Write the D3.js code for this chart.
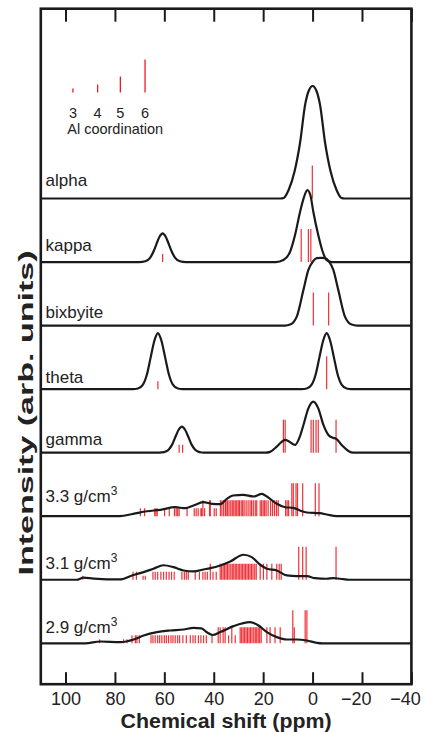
<!DOCTYPE html>
<html>
<head>
<meta charset="utf-8">
<script src="https://cdn.jsdelivr.net/npm/d3@7/dist/d3.min.js"></script>
<style>
  body { margin: 0; background: #fff; }
  svg { display: block; font-family: "Liberation Sans", Arial, Helvetica, sans-serif; }
</style>
</head>
<body>
<div id="chart"></div>
<script>
/*
    27Al NMR spectra of alumina phases and amorphous alumina,
    stacked panels with calculated shifts as sticks.
*/

// panels, top to bottom
var panels = ["alpha", "kappa", "bixbyite", "theta", "gamma", "3.3", "3.1", "2.9"];
var panelLabels = ["alpha", "kappa", "bixbyite", "theta", "gamma", "3.3 g/cm", "3.1 g/cm", "2.9 g/cm"];
var densityPanels = ["3.3", "3.1", "2.9"];
var xTicks = [100, 80, 60, 40, 20, 0, -20, -40];
var coordLevels = [3, 4, 5, 6];
var legendPpm = [97, 87, 77.8, 67.8];

// spectra, [ppm, intensity]
var alphaCurve = [[110,0],[13,0],[11.7,0.5],[9.7,8.5],[7.3,27],[5.05,56],[3.0,94],[1.5,108],[0,112.5],[-1.5,108],[-3.0,94],[-5.05,56],[-7.3,27],[-9.7,8.5],[-11.7,0.5],[-13,0],[-40,0]];
var kappaCurve = [[110,0],[70.2,0],[67.7,0.8],[65.7,4.5],[64.2,11.5],[63.2,18],[61.9,25.5],[60.7,28.7],[59.5,25.5],[58.2,18],[57.2,11.5],[55.7,4.5],[53.7,0.8],[51.2,0],[14.8,0],[11.8,2],[9.1,10.3],[7.1,27],[5.05,50.3],[3.6,64],[2.1,72],[0.8,66],[-0.3,50.3],[-2.3,27],[-4.1,10.3],[-5.7,2],[-7.9,0],[-40,0]];
var bixbyiteCurve = [[110,0],[11.1,0],[9.1,1],[6.4,9],[3.7,35.7],[1.7,55.7],[-0.1,64],[-1.7,67.4],[-3.4,67.8],[-5.05,67.4],[-6.7,64],[-8.4,55.7],[-10.4,35.7],[-13.1,9],[-15.8,1],[-18,0],[-40,0]];
var thetaCurve = [[110,0],[72.7,0],[70.7,0.6],[68.65,4.5],[67.05,14.6],[65.55,31.5],[64.0,48.6],[62.6,56],[61.2,48.6],[59.65,31.5],[58.15,14.6],[56.55,4.5],[54.5,0.6],[52.5,0],[4.4,0],[2.4,0.6],[0.35,4.5],[-1.25,14.6],[-2.75,31.5],[-4.3,48.6],[-5.7,56],[-7.1,48.6],[-8.65,31.5],[-10.15,14.6],[-11.75,4.5],[-13.8,0.6],[-15.8,0],[-40,0]];
var gammaCurve = [[110,0],[63,0],[61,0.2],[59.4,1.1],[58.1,3.5],[56.8,8.3],[55.5,15.9],[54.2,22.9],[52.9,26],[51.6,22.9],[50.3,15.9],[49,8.3],[47.7,3.5],[46.4,1.1],[44.8,0.2],[43,0],[19,0],[17.2,0.8],[14.5,6],[12.4,11],[11.1,12.7],[9.5,11.2],[7.1,7.7],[5.3,15],[3.7,27.7],[1.7,44.3],[-0.3,51],[-2.3,44.3],[-4.4,27.7],[-6.4,17.7],[-8.3,14.8],[-9.5,14],[-11.8,7.7],[-14.5,1.7],[-16.5,0],[-40,0]];
var glass33Curve = [[110,0],[78,0],[72.6,2.4],[67,5],[61.6,6.4],[55.6,9],[51.5,8],[48.2,10.7],[44.3,14],[40.7,12.4],[37.4,12],[34.7,17.4],[32.2,20.7],[28.1,21.4],[23.9,19.7],[20.5,22.4],[18.5,19.7],[14.5,12.4],[11.1,9],[7.8,8.4],[5.1,5.7],[2.3,3.7],[-3,3],[-5.7,1.7],[-9.8,0],[-40,0]];
var glass31Curve = [[110,0],[95.5,0],[92.7,2.2],[88.6,1.2],[78,0.3],[73.1,4.3],[68.4,7.6],[64.4,11],[60.3,14.5],[56.3,12.6],[52.2,9.3],[48.2,8.3],[44.1,10.3],[41.4,11.6],[37.4,14.3],[33.3,18.3],[28,25],[24.6,22.6],[21.2,15],[18.5,11],[14.5,9.3],[10.4,4.3],[6.4,3.6],[2.3,3.6],[-1,1.6],[-5.7,1],[-8.4,1.6],[-11.1,1],[-15,0],[-40,0]];
var glass29Curve = [[110,0],[92,0],[85.9,1.8],[77.8,1.2],[72.4,3.8],[68.4,7.8],[63,11.2],[57.6,12.8],[52.2,13.8],[48.2,15.5],[45,15],[42.8,11],[40.5,8.3],[37.4,11.2],[32,17.2],[25.3,21.2],[21.9,17.8],[18.5,11.2],[14.5,6.2],[10.4,3.8],[6.4,3.8],[2.3,2.8],[-1.7,0.5],[-4,0],[-40,0]];

// calculated shifts (ppm), grouped by Al coordination
var alphaCn6 = [0.1];
var kappaCn4 = [60.7];
var kappaCn6 = [4.6, 1.7, 0.7];
var bixbyiteCn6 = [-0.3, -6.5];
var thetaCn4 = [62.6];
var thetaCn6 = [-5.7];
var gammaCn4 = [54.0, 52.6];
var gammaCn6 = [11.8, 11.1, 0.6, -0.3, -1.4, -2.3, -9.5];
var glass33Cn4 = [69.7, 68.0, 63.9, 63.4, 62.9, 59.9, 58.0, 55.9, 55.2, 54.6, 54.0, 50.8, 47.9, 47.1, 46.3, 45.2, 44.9, 43.7, 39.8, 39.0];
var glass33Cn5 = [44.4, 41.7, 41.4, 37.3, 36.7, 36.0, 35.3, 35.0, 34.4, 33.8, 33.1, 32.5, 31.9, 31.3, 30.7, 30.1, 29.6, 28.9, 28.3, 27.7, 26.9, 26.1, 25.3, 24.7, 24.0, 23.2, 22.6, 21.2, 20.6, 20.0, 19.4, 18.8, 18.0, 17.0, 16.2, 15.4, 14.6, 13.9, 10.9, 10.3, 9.7];
var glass33Cn6 = [8.4, 7.8, 6.7, 6.1, 4.0, -1.1, -2.6];
var glass31Cn3 = [93.0, 68.6, 67.7];
var glass31Cn4 = [72.7, 71.3, 64.6, 63.7, 62.7, 61.4, 60.3, 59.2, 58.1, 57.1, 56.0, 52.9, 51.9, 51.1, 50.3, 47.5, 45.8, 44.4, 43.5, 42.6, 40.3, 39.0];
var glass31Cn5 = [41.4, 37.4, 36.8, 36.2, 35.6, 35.0, 34.4, 33.8, 33.1, 32.5, 31.9, 31.3, 30.7, 30.1, 29.5, 28.9, 28.3, 27.7, 27.1, 26.5, 25.9, 25.3, 24.7, 24.1, 23.4, 22.8, 21.2, 19.9, 18.5, 16.5, 14.5, 13.5, 12.7];
var glass31Cn6 = [5.6, 4.0, 2.6, -9.5];
var glass29Cn3 = [86.2, 76.5, 75.1];
var glass29Cn4 = [73.1, 71.7, 71.1, 70.1, 65.4, 64.6, 63.7, 62.7, 61.9, 61.0, 60.0, 59.2, 58.3, 57.3, 56.5, 55.6, 54.6, 53.8, 52.5, 51.1, 49.5, 48.4, 47.5, 46.2, 45.2, 44.1, 43.0, 40.7, 34.0, 31.3];
var glass29Cn5 = [38.2, 37.4, 36.2, 35.4, 32.7, 29.3, 28.7, 28.1, 27.5, 26.9, 26.3, 25.7, 25.1, 24.5, 23.8, 23.2, 22.6, 22.0, 21.4, 20.8, 18.5, 17.2, 15.2, 13.1, 7.4];
var glass29Cn6 = [8.0, 3.0, 2.3];

// flatten {coordination: ppm list} into stick records
function sticksFrom(groups){
    let out = [];
    for (let g of groups)
        for (let p of g[1]) out.push({ppm: p, cn: g[0]});
    return out;
}

var curves = [alphaCurve, kappaCurve, bixbyiteCurve, thetaCurve, gammaCurve, glass33Curve, glass31Curve, glass29Curve];
var stickSets = [
    sticksFrom([[6, alphaCn6]]),
    sticksFrom([[4, kappaCn4], [6, kappaCn6]]),
    sticksFrom([[6, bixbyiteCn6]]),
    sticksFrom([[4, thetaCn4], [6, thetaCn6]]),
    sticksFrom([[4, gammaCn4], [6, gammaCn6]]),
    sticksFrom([[4, glass33Cn4], [5, glass33Cn5], [6, glass33Cn6]]),
    sticksFrom([[3, glass31Cn3], [4, glass31Cn4], [5, glass31Cn5], [6, glass31Cn6]]),
    sticksFrom([[3, glass29Cn3], [4, glass29Cn4], [5, glass29Cn5], [6, glass29Cn6]])
];
var panelTable = panels.map((p, i) => ({name: p, label: panelLabels[i], curve: curves[i], sticks: stickSets[i]}));

// how far each label sits above its baseline (px)
var labelRaise = [13, 11, 8, 6, 8, 14, 11, 10];

class SpectraChart {
    constructor(selector){
        this.width = 426;
        this.height = 732;
        this.frame = {left: 40.8, right: 411.4, top: 8.7, bottom: 684.2};
        this.red = "#ed1c24";
        this.ink = "#1a1a1a";
        this.init(selector);
    }
    init(selector){
        let f = this.frame;
        this.svg = d3.select(selector).append("svg")
            .attr("width", this.width)
            .attr("height", this.height);

        this.x = d3.scaleLinear().domain([110, -40]).range([f.left, f.right]);
        // baseline of each panel
        this.base = d3.scalePoint().domain(panels).range([198.5, 643.3]);
        // intensity (arb. units) to pixels upward
        this.yInt = d3.scaleLinear().domain([0, 100]).range([0, -100]);
        // stick length by Al coordination
        this.stickLen = d3.scaleOrdinal().domain(coordLevels).range([4, 8, 16, 33]);

        this.drawSticks();
        this.drawCurves();
        this.drawLabels();
        this.drawLegend();
        this.drawAxis();
    }
    drawSticks(){
        let g = this.svg.append("g").attr("class", "sticks");
        panelTable.forEach(p => {
            let b = this.base(p.name);
            g.selectAll(".stick-" + p.name.replace(".", "")).data(p.sticks).enter()
                .append("line")
                .attr("x1", d => this.x(d.ppm))
                .attr("x2", d => this.x(d.ppm))
                .attr("y1", b)
                .attr("y2", d => b - this.stickLen(d.cn))
                .style("stroke", this.red)
                .style("stroke-width", 1.2)
                .style("opacity", 0.9);
        });
    }
    drawCurves(){
        let line = d3.line().curve(d3.curveMonotoneX);
        this.svg.append("g").attr("class", "curves")
            .selectAll("path").data(panelTable).enter()
            .append("path")
            .attr("d", p => {
                let b = this.base(p.name);
                return line.x(d => this.x(d[0])).y(d => b + this.yInt(d[1]))(p.curve);
            })
            .style("fill", "none")
            .style("stroke", this.ink)
            .style("stroke-width", 2.2)
            .style("stroke-linejoin", "round");
    }
    drawLabels(){
        let t = this.svg.append("g").attr("class", "panel-labels")
            .selectAll("text").data(panelTable).enter()
            .append("text")
            .attr("x", 45.5)
            .attr("y", (p, i) => this.base(p.name) - labelRaise[i])
            .style("font-size", "17px")
            .style("fill", "#222")
            .text(p => p.label);
        // superscript for the density panels
        t.filter(p => densityPanels.indexOf(p.name) >= 0)
            .append("tspan")
            .attr("dy", -7)
            .style("font-size", "12px")
            .text("3");
    }
    drawLegend(){
        let b = this.base("alpha") - 106;
        let g = this.svg.append("g").attr("class", "legend");
        g.selectAll("line").data(coordLevels).enter()
            .append("line")
            .attr("x1", (d, i) => this.x(legendPpm[i]))
            .attr("x2", (d, i) => this.x(legendPpm[i]))
            .attr("y1", b)
            .attr("y2", d => b - this.stickLen(d))
            .style("stroke", this.red)
            .style("stroke-width", 1.3);
        g.selectAll("text.cn").data(coordLevels).enter()
            .append("text")
            .attr("class", "cn")
            .attr("x", (d, i) => this.x(legendPpm[i]))
            .attr("y", b + 25.5)
            .attr("text-anchor", "middle")
            .style("font-size", "14.5px")
            .style("fill", "#222")
            .text(d => d);
        g.append("text")
            .attr("x", this.x(99.3))
            .attr("y", b + 41)
            .style("font-size", "14.5px")
            .style("fill", "#222")
            .text("Al coordination");
    }
    drawAxis(){
        let f = this.frame;
        let fmt = d => d < 0 ? "\u2212" + (-d) : "" + d;

        let bottom = this.svg.append("g")
            .attr("class", "x axis")
            .attr("transform", "translate(0," + f.bottom + ")")
            .call(d3.axisBottom(this.x).tickValues(xTicks).tickSize(-12).tickPadding(8.5).tickFormat(fmt));
        let top = this.svg.append("g")
            .attr("class", "x axis top")
            .attr("transform", "translate(0," + f.top + ")")
            .call(d3.axisTop(this.x).tickValues(xTicks).tickSize(-13).tickFormat(""));

        [bottom, top].forEach(a => {
            a.select(".domain").remove();
            a.attr("font-family", null).attr("font-size", null);
            a.selectAll("line").style("stroke", this.ink).style("stroke-width", 2);
        });
        bottom.selectAll("text")
            .style("font-size", "18px")
            .style("fill", "#222")
            .attr("dx", d => d < 0 ? "-0.35em" : 0);

        // frame
        this.svg.append("rect")
            .attr("x", f.left)
            .attr("y", f.top)
            .attr("width", f.right - f.left)
            .attr("height", f.bottom - f.top)
            .style("fill", "none")
            .style("stroke", this.ink)
            .style("stroke-width", 2.6);

        this.svg.append("text")
            .attr("x", (f.left + f.right) / 2)
            .attr("y", 727.5)
            .attr("text-anchor", "middle")
            .attr("textLength", 211)
            .attr("lengthAdjust", "spacingAndGlyphs")
            .style("font-size", "20px")
            .style("font-weight", "bold")
            .style("fill", "#222")
            .text("Chemical shift (ppm)");

        // the reference stretches this title along the axis
        this.svg.append("text")
            .attr("transform", "translate(33,413) rotate(-90)")
            .attr("text-anchor", "middle")
            .attr("textLength", 325)
            .attr("lengthAdjust", "spacingAndGlyphs")
            .style("font-size", "21px")
            .style("font-weight", "bold")
            .style("fill", "#222")
            .text("Intensity (arb. units)");
    }
}

new SpectraChart("#chart");
</script>
</body>
</html>
